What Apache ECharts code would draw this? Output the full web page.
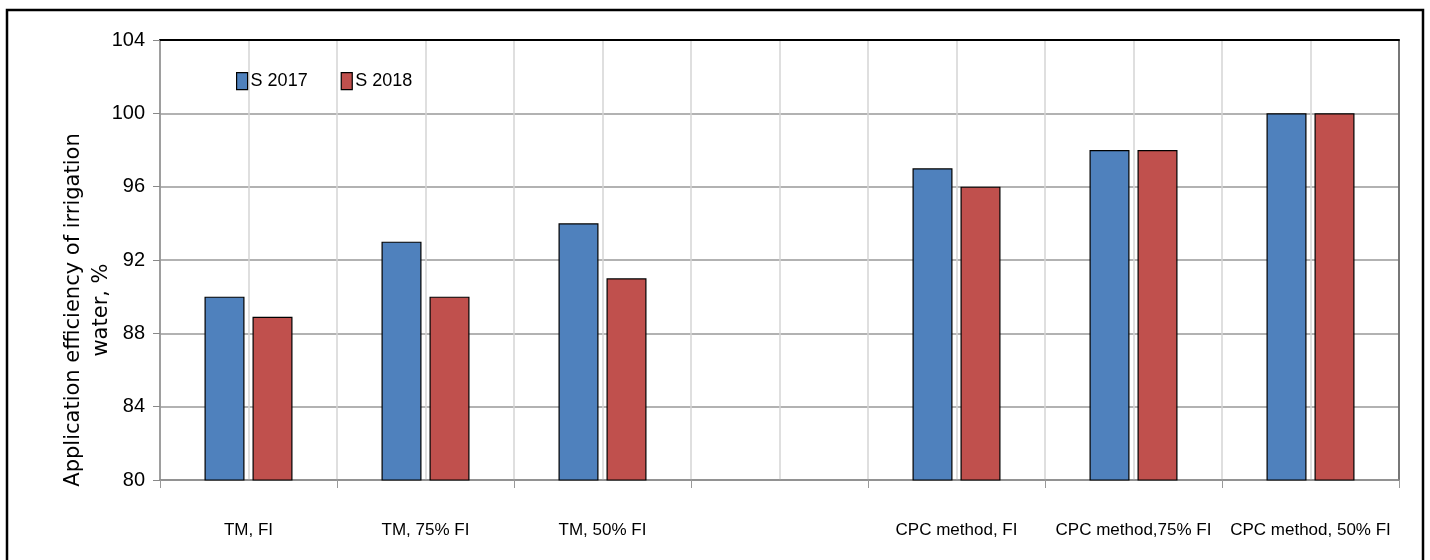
<!DOCTYPE html>
<html>
<head>
<meta charset="utf-8">
<script src="https://cdn.jsdelivr.net/npm/echarts@6/dist/echarts.min.js"></script>
<style>
  html, body { margin: 0; padding: 0; background: #fff; }
  #chart { width: 1430px; height: 560px; }
</style>
</head>
<body>
<div id="chart"></div>
<script>
// categories (empty slot between the two method groups)
const categories = ['TM, FI', 'TM, 75% FI', 'TM, 50% FI', '', 'CPC method, FI', 'CPC method,75% FI', 'CPC method, 50% FI'];
const s2017 = [90, 93, 94, null, 97, 98, 100];
const s2018 = [88.9, 90, 91, null, 96, 98, 100];
const yTicks = [80, 84, 88, 92, 96, 100, 104];

const labelFont = '"Liberation Sans Narrow", "Liberation Sans", sans-serif';

const chart = echarts.init(document.getElementById('chart'));

const option = {
  animation: false,
  graphic: [
    {
      type: 'rect',
      shape: { x: 7, y: 10, width: 1416, height: 560 },
      style: { fill: 'none', stroke: '#000', lineWidth: 2.5 },
      z: 100
    }
  ],
  legend: {
    left: 231,
    top: 67,
    icon: 'rect',
    itemWidth: 11,
    itemHeight: 17,
    itemGap: 33,
    itemStyle: { borderColor: '#000', borderWidth: 1.2 },
    textStyle: { fontFamily: labelFont, fontSize: 18, color: '#000', padding: [0, 0, 0, -2] },
    data: ['S 2017', 'S 2018']
  },
  grid: { left: 160, right: 31, top: 40, bottom: 80 },
  xAxis: [
    {
      type: 'category',
      data: categories,
      axisLine: { lineStyle: { color: '#888', width: 1.5 } },
      axisTick: { show: true, length: 8, lineStyle: { color: '#999' } },
      axisLabel: { fontFamily: labelFont, fontSize: 17, color: '#000', margin: 42, interval: 0 },
      splitLine: { show: false }
    },
    {
      type: 'value',
      position: 'top',
      min: 0,
      max: categories.length * 2,
      interval: 1,
      axisLine: { show: true, lineStyle: { color: '#000', width: 2 } },
      axisTick: { show: false },
      axisLabel: { show: false },
      splitLine: { show: true, lineStyle: { color: '#d4d4d4', width: 1.5 } }
    }
  ],
  yAxis: [
    {
      type: 'value',
      min: yTicks[0],
      max: yTicks[yTicks.length - 1],
      interval: 4,
      name: 'Application efficiency of irrigation\nwater, %',
      nameLocation: 'middle',
      nameGap: 44,
      nameMoveOverlap: false,
      nameTextStyle: {
        fontFamily: '"DejaVu Sans", sans-serif',
        fontSize: 21,
        color: '#000',
        lineHeight: 28,
        padding: [0, 100, 0, 0]
      },
      axisLine: { show: true, lineStyle: { color: '#888', width: 1.5 } },
      axisTick: { show: true, length: 7, lineStyle: { color: '#888' } },
      axisLabel: { fontFamily: labelFont, fontSize: 20, color: '#000', margin: 15 },
      splitLine: { show: true, lineStyle: { color: '#999', width: 1.5 } }
    },
    {
      type: 'value',
      position: 'right',
      min: yTicks[0],
      max: yTicks[yTicks.length - 1],
      interval: 4,
      axisLine: { show: true, lineStyle: { color: '#555', width: 1.5 } },
      axisTick: { show: false },
      axisLabel: { show: false },
      splitLine: { show: false }
    }
  ],
  series: [
    {
      name: 'S 2017',
      type: 'bar',
      data: s2017,
      barWidth: 40,
      barGap: '20%',
      itemStyle: { color: '#4F81BD', borderColor: '#000', borderWidth: 1.2 }
    },
    {
      name: 'S 2018',
      type: 'bar',
      data: s2018,
      barWidth: 40,
      itemStyle: { color: '#C0504D', borderColor: '#000', borderWidth: 1.2 }
    }
  ]
};

chart.setOption(option);
</script>
</body>
</html>
